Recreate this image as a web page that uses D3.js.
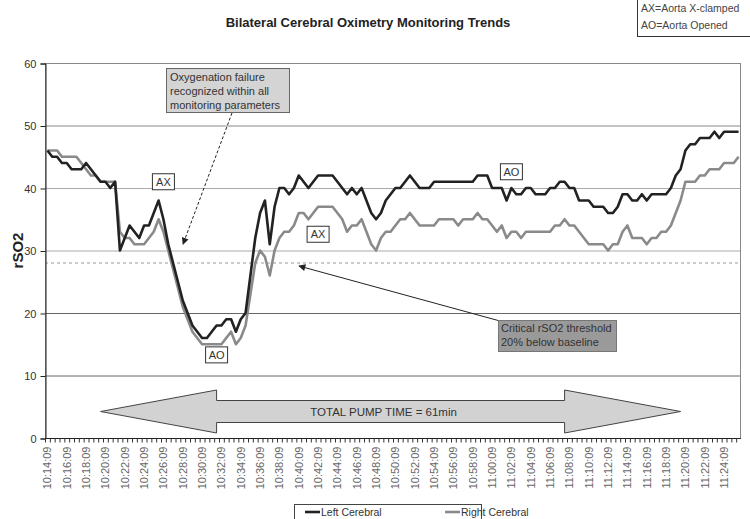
<!DOCTYPE html>
<html>
<head>
<meta charset="utf-8">
<script src="https://cdn.jsdelivr.net/npm/d3@7/dist/d3.min.js"></script>
<style>
html,body{margin:0;padding:0;background:#fff;}
svg{display:block;font-family:"Liberation Sans",Arial,sans-serif;}
</style>
</head>
<body>
<svg id="chart" width="750" height="519"></svg>
<script>
// ---- data ----
const startTime = new Date(2000, 0, 1, 10, 14, 9);
const fmt = d3.timeFormat("%H:%M:%S");
const categories = d3.range(144).map(i => fmt(d3.timeSecond.offset(startTime, 30 * i)));

const tickLabels = ["10:14:09","10:16:09","10:18:09","10:20:09","10:22:09","10:24:09","10:26:09","10:28:09",
  "10:30:09","10:32:09","10:34:09","10:36:09","10:38:09","10:40:09","10:42:09","10:44:09","10:46:09",
  "10:48:09","10:50:09","10:52:09","10:54:09","10:56:09","10:58:09","11:00:09","11:02:09","11:04:09",
  "11:06:09","11:08:09","11:10:09","11:12:09","11:14:09","11:16:09","11:18:09","11:20:09","11:22:09","11:24:09"];

const yTicks = [0, 10, 20, 30, 40, 50, 60];

const leftCerebral = [
  46,45,45,44,44,43,43,43,44,43,42,41,41,40,41,
  30,32,34,33,32,34,34,36,38,35,31,28,25,22,20,
  18,17,16,16,17,18,18,19,19,17,19,20,26,32,36,
  38,31,37,40,40,39,40,42,41,40,41,42,42,42,42,
  41,40,39,40,39,40,38,36,35,36,38,39,40,40,41,
  42,41,40,40,40,41,41,41,41,41,41,41,41,41,42,
  42,42,40,40,40,38,40,39,39,40,40,39,39,39,40,
  40,41,41,40,40,38,38,38,37,37,37,36,36,37,39,
  39,38,38,39,38,39,39,39,39,40,42,43,46,47,47,
  48,48,48,49,48,49,49,49,49];

const rightCerebral = [
  46,46,46,45,45,45,45,44,43,42,42,41,41,41,41,
  33,32,32,31,31,31,32,33,35,33,30,27,24,21,19,
  17,16,15,15,15,15,15,16,17,15,16,18,23,28,30,
  29,26,30,32,33,33,34,36,36,35,36,37,37,37,37,
  36,35,33,34,34,35,33,31,30,32,33,33,34,35,35,
  36,35,34,34,34,34,35,35,35,35,34,35,35,35,36,
  35,35,34,33,34,32,33,33,32,33,33,33,33,33,33,
  34,34,35,34,34,33,32,31,31,31,31,30,31,31,33,
  34,32,32,32,31,32,32,33,33,34,36,38,41,41,41,
  42,42,43,43,43,44,44,44,45];

const threshold = 28;
const seriesNames = ["Left Cerebral", "Right Cerebral"];
const eventMarks = [
  {label: "AX", time: "10:26:09", value: 41},
  {label: "AX", time: "10:42:09", value: 32.6},
  {label: "AO", time: "10:31:39", value: 13.3},
  {label: "AO", time: "11:02:09", value: 42.6}
];
const pumpStart = "10:19:39", pumpEnd = "11:19:39";
const pumpText = "TOTAL PUMP TIME = 61min";

// ---- layout ----
const svg = d3.select("#chart");
const L = 45, R = 741, T = 63, B = 438;
const x = d3.scaleBand().domain(categories).range([L, R]).paddingInner(0).paddingOuter(0);
const bw = x.bandwidth();
const cx = c => x(c) + bw / 2;
const y = d3.scaleLinear().domain([0, 60]).range([B, T]);

// title
svg.append("text").attr("x", 368).attr("y", 27).attr("text-anchor", "middle")
  .attr("font-size", 13).attr("font-weight", "bold").attr("fill", "#222")
  .text("Bilateral Cerebral Oximetry Monitoring Trends");

// top-right legend
svg.append("rect").attr("x", 637.5).attr("y", -1).attr("width", 114).attr("height", 37.5)
  .attr("fill", "#fff").attr("stroke", "#333");
svg.append("text").attr("x", 641).attr("y", 12).attr("font-size", 10.5).attr("fill", "#444").text("AX=Aorta X-clamped");
svg.append("text").attr("x", 641).attr("y", 29).attr("font-size", 10.5).attr("fill", "#444").text("AO=Aorta Opened");

// gridlines
const gridColor = {10: "#666", 20: "#666", 30: "#aaa", 40: "#aaa", 50: "#888"};
svg.append("g").selectAll("line").data(yTicks.filter(t => t > 0 && t < 60)).join("line")
  .attr("x1", L).attr("x2", R).attr("y1", d => y(d) + 0.5).attr("y2", d => y(d) + 0.5)
  .attr("stroke", d => gridColor[d]).attr("stroke-width", 1);

// plot frame
svg.append("rect").attr("x", L + 0.5).attr("y", T + 0.5).attr("width", R - L - 1).attr("height", B - T)
  .attr("fill", "none").attr("stroke", "#888");

// threshold dashed line
svg.append("line").attr("x1", L).attr("x2", R).attr("y1", y(threshold)).attr("y2", y(threshold))
  .attr("stroke", "#999").attr("stroke-dasharray", "3,3").attr("stroke-width", 1);

// y axis
const yAxis = d3.axisLeft(y).tickValues(yTicks).tickSize(5).tickPadding(4);
const gy = svg.append("g").attr("transform", `translate(${L + 0.5},0.5)`).call(yAxis);
gy.select(".domain").attr("stroke", "#222");
gy.selectAll(".tick line").attr("stroke", "#222");
gy.selectAll("text").attr("font-size", 11).attr("fill", "#333").attr("font-family", "Liberation Sans, Arial, sans-serif");

svg.append("text").attr("transform", `translate(23,${(T + B) / 2}) rotate(-90)`)
  .attr("text-anchor", "middle").attr("font-size", 15).attr("font-weight", "bold").attr("fill", "#222")
  .text("rSO2");

// x axis
const gx = svg.append("g").attr("transform", `translate(0,${B + 0.5})`);
gx.append("line").attr("x1", L).attr("x2", R).attr("stroke", "#222");
gx.selectAll("line.mt").data(categories).join("line").attr("class", "mt")
  .attr("x1", d => x(d) + 0.5).attr("x2", d => x(d) + 0.5).attr("y1", 0).attr("y2", 4).attr("stroke", "#333");
gx.selectAll("text").data(tickLabels).join("text")
  .attr("transform", d => `translate(${cx(d) + 4},8) rotate(-90)`)
  .attr("text-anchor", "end").attr("font-size", 11).attr("fill", "#666").text(d => d);

// big pump-time double arrow
{
  const x0 = cx(pumpStart), x1 = cx(pumpEnd);
  const headLen = 116, ym = 411.5, hh = 21.5, sh = 11;
  const pts = [[x0, ym], [x0 + headLen, ym - hh], [x0 + headLen, ym - sh], [x1 - headLen, ym - sh],
    [x1 - headLen, ym - hh], [x1, ym], [x1 - headLen, ym + hh], [x1 - headLen, ym + sh],
    [x0 + headLen, ym + sh], [x0 + headLen, ym + hh]];
  svg.append("path").attr("d", d3.line()(pts) + "Z").attr("fill", "#d2d2d2").attr("stroke", "#444").attr("stroke-width", 1);
  svg.append("text").attr("x", (x0 + x1) / 2 - 7).attr("y", ym + 4).attr("text-anchor", "middle")
    .attr("font-size", 11.5).attr("fill", "#333").text(pumpText);
}

// series lines
const line = d3.line().x((d, i) => cx(categories[i])).y(d => y(d));
svg.append("path").datum(rightCerebral).attr("d", line).attr("fill", "none")
  .attr("stroke", "#8a8a8a").attr("stroke-width", 2.6).attr("stroke-linejoin", "round");
svg.append("path").datum(leftCerebral).attr("d", line).attr("fill", "none")
  .attr("stroke", "#222").attr("stroke-width", 2.6).attr("stroke-linejoin", "round");

// event boxes
const eg = svg.append("g").selectAll("g").data(eventMarks).join("g")
  .attr("transform", d => `translate(${cx(d.time)},${y(d.value)})`);
eg.append("rect").attr("x", -11).attr("y", -8).attr("width", 22).attr("height", 16)
  .attr("fill", "#fff").attr("stroke", "#333");
eg.append("text").attr("y", 4).attr("text-anchor", "middle").attr("font-size", 11).attr("fill", "#333").text(d => d.label);

// arrow markers
const defs = svg.append("defs");
defs.append("marker").attr("id", "ah").attr("viewBox", "0 0 10 10").attr("refX", 9).attr("refY", 5)
  .attr("markerWidth", 8).attr("markerHeight", 7).attr("orient", "auto-start-reverse").attr("markerUnits", "userSpaceOnUse")
  .append("path").attr("d", "M0,0L10,5L0,10Z").attr("fill", "#222");

// annotation 1: oxygenation failure
svg.append("line").attr("x1", 232).attr("y1", 113).attr("x2", 183).attr("y2", y(31))
  .attr("stroke", "#222").attr("stroke-dasharray", "3,2").attr("stroke-width", 1).attr("marker-end", "url(#ah)");
svg.append("rect").attr("x", 166.5).attr("y", 68.5).attr("width", 123).attr("height", 44)
  .attr("fill", "#d4d4d4").attr("stroke", "#666");
["Oxygenation failure", "recognized within all", "monitoring parameters"].forEach((t, i) => {
  svg.append("text").attr("x", 170).attr("y", 81 + i * 14).attr("font-size", 11).attr("fill", "#333").text(t);
});

// annotation 2: critical threshold
svg.append("line").attr("x1", 500).attr("y1", 321).attr("x2", 299).attr("y2", 266)
  .attr("stroke", "#222").attr("stroke-width", 1).attr("marker-end", "url(#ah)");
svg.append("rect").attr("x", 498.5).attr("y", 320.5).attr("width", 118).attr("height", 31)
  .attr("fill", "#9a9a9a").attr("stroke", "#777");
["Critical rSO2 threshold", "20% below baseline"].forEach((t, i) => {
  svg.append("text").attr("x", 501).attr("y", 332 + i * 14).attr("font-size", 11).attr("fill", "#333").text(t);
});

// bottom legend
{
  const lg = svg.append("g");
  lg.append("rect").attr("x", 294.5).attr("y", 504.5).attr("width", 187).attr("height", 20)
    .attr("fill", "#fff").attr("stroke", "#444");
  lg.append("line").attr("x1", 305).attr("x2", 320).attr("y1", 512).attr("y2", 512).attr("stroke", "#222").attr("stroke-width", 2.6);
  lg.append("text").attr("x", 321).attr("y", 515.5).attr("font-size", 10.5).attr("fill", "#333").text(seriesNames[0]);
  lg.append("line").attr("x1", 445).attr("x2", 460).attr("y1", 512).attr("y2", 512).attr("stroke", "#8a8a8a").attr("stroke-width", 2.6);
  lg.append("text").attr("x", 461).attr("y", 515.5).attr("font-size", 10.5).attr("fill", "#333").text(seriesNames[1]);
}
</script>
</body>
</html>
